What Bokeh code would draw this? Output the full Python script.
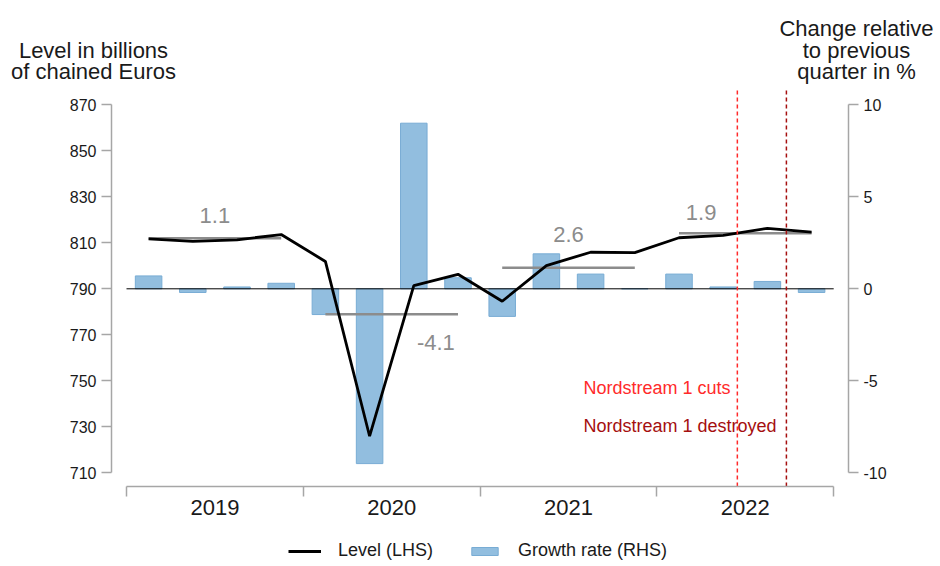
from bokeh.plotting import figure
from bokeh.models import (Range1d, LinearAxis, FixedTicker, Label,
                          Legend, LegendItem)
from bokeh.embed import file_html
from bokeh.resources import INLINE
from bokeh.core.properties import value

# ---------------- data ----------------
quarters = ["2019Q1", "2019Q2", "2019Q3", "2019Q4",
            "2020Q1", "2020Q2", "2020Q3", "2020Q4",
            "2021Q1", "2021Q2", "2021Q3", "2021Q4",
            "2022Q1", "2022Q2", "2022Q3", "2022Q4"]
years = ["2019", "2020", "2021", "2022"]

# GDP level, billions of chained euros (LHS)
level = [811.7, 810.6, 811.3, 813.6,
         801.9, 725.9, 791.4, 796.3,
         784.6, 800.1, 805.9, 805.7,
         812.2, 813.2, 816.3, 814.6]

# q/q growth rate in % (RHS)
growth = [0.7, -0.2, 0.1, 0.3,
          -1.4, -9.5, 9.0, 0.6,
          -1.5, 1.9, 0.8, 0.0,
          0.8, 0.1, 0.4, -0.2]

# annual average level and annual growth rate
annual_avg_level = [812.0, 778.9, 799.1, 814.1]
annual_growth = ["1.1", "-4.1", "2.6", "1.9"]

# events (position as fractional quarter index since 2019Q1)
event_labels = ["Nordstream 1 cuts", "Nordstream 1 destroyed"]
event_pos = [13.82, 14.93]

left_ticks = [710, 730, 750, 770, 790, 810, 830, 850, 870]
right_ticks = [-10, -5, 0, 5, 10]

left_title = ["Level in billions", "of chained Euros"]
right_title = ["Change relative", "to previous", "quarter in %"]

# ---------------- styling / layout ----------------
FONT = "Liberation Sans"
AX = "#a6a6a6"
TXT = "#1a1a1a"
GREY = "#8c8c8c"
W, H = 940, 566

# pixel geometry of the chart area
PX_Q = 44.2          # px per quarter
X0_PX = 126          # px of first quarter start
PX_U = 2.3           # px per LHS unit
Y870_PX = 104.3      # px of the 870 tick
x_lo = -X0_PX / PX_Q
x_hi = (W - X0_PX) / PX_Q
y_hi = 870 + Y870_PX / PX_U
y_lo = 870 - (H - Y870_PX) / PX_U
def x_at(px):
    return (px - X0_PX) / PX_Q
def y_at(py):
    return 870 - (py - Y870_PX) / PX_U
to_rhs = lambda v: (v - 790) / 8

n = len(quarters)
xq = [i + 0.5 for i in range(n)]

p = figure(width=W, height=H, output_backend="svg", toolbar_location=None,
           x_range=Range1d(x_lo, x_hi), y_range=Range1d(y_lo, y_hi),
           x_axis_location=None, y_axis_location=None, min_border=0)
p.extra_y_ranges = {"g": Range1d(to_rhs(y_lo), to_rhs(y_hi))}
p.outline_line_color = None
p.grid.visible = False

# axes (drawn at fixed locations inside the canvas)
yl = LinearAxis(ticker=FixedTicker(ticks=left_ticks),
                bounds=(left_ticks[0], left_ticks[-1]), fixed_location=x_at(111))
yr = LinearAxis(ticker=FixedTicker(ticks=right_ticks),
                bounds=(right_ticks[0], right_ticks[-1]), y_range_name="g",
                fixed_location=x_at(848),
                major_label_overrides={t: str(t) for t in right_ticks})
xb = LinearAxis(ticker=FixedTicker(ticks=[4 * i + 2 for i in range(len(years))],
                                   minor_ticks=[4 * i for i in range(len(years) + 1)]),
                bounds=(0, n), fixed_location=y_at(486),
                major_label_overrides={4 * i + 2: y for i, y in enumerate(years)})
for ax in (yl, yr, xb):
    ax.axis_line_color = AX
    ax.axis_line_width = 1.5
    ax.major_tick_line_color = AX
    ax.major_tick_line_width = 1.5
    ax.minor_tick_line_color = AX
    ax.minor_tick_line_width = 1.5
    ax.major_tick_in = 0
    ax.minor_tick_in = 0
    ax.minor_tick_out = 0
    ax.major_tick_out = 10
    ax.major_label_text_font = FONT
    ax.major_label_text_color = TXT
    ax.major_label_text_font_size = "16px"
    ax.major_label_standoff = 5
xb.major_tick_out = 0
xb.minor_tick_out = 10
xb.major_label_text_font_size = "22px"
xb.major_label_standoff = 3
p.add_layout(yl, "left")
p.add_layout(yr, "right")
p.add_layout(xb, "below")

# bars (RHS)
bars = p.vbar(x=xq, top=growth, bottom=0, width=0.6, y_range_name="g",
              fill_color="#92bedf", line_color="#78acd4", line_width=1)
# zero line
p.line([0, n], [0, 0], y_range_name="g", line_color="black", line_width=1)

# annual averages
p.segment(x0=[4 * i + 0.5 for i in range(len(years))],
          x1=[4 * i + 3.5 for i in range(len(years))],
          y0=annual_avg_level, y1=annual_avg_level,
          line_color=GREY, line_width=2.5)

# level line (LHS)
lvl = p.line(xq, level, line_color="black", line_width=2.8)

# annual growth labels
lab_x = [2.0, 7.0, 10.0, 13.0]
lab_y = [821.9, 766.8, 813.5, 823.3]
p.text(x=lab_x, y=lab_y, text=annual_growth, text_font=value(FONT),
       text_font_size="22px", text_color=GREY, text_align="center",
       text_baseline="middle")

# events
ev_colors = ["#ff2a2a", "#a50f0f"]
p.segment(x0=event_pos, x1=event_pos, y0=[y_at(486)] * 2, y1=[y_at(89)] * 2,
          line_color=ev_colors, line_dash="4 3", line_width=1.5)
p.text(x=[10.34, 10.34], y=[746.7, 730.3], text=event_labels,
       text_color=ev_colors, text_font=value(FONT), text_font_size="18px",
       text_align="left", text_baseline="middle")

# axis titles (screen units: from canvas left / bottom)
for txt, x, y in zip(left_title + right_title,
                     [93, 93, 856, 856, 856],
                     [50, 71, 28, 49.5, 71]):
    p.add_layout(Label(x=x, y=H - y, x_units="screen", y_units="screen", text=txt,
                       text_font=FONT, text_font_size="22px", text_color=TXT,
                       text_align="center", text_baseline="alphabetic"))

legend = Legend(items=[LegendItem(label="Level (LHS)", renderers=[lvl]),
                       LegendItem(label="Growth rate (RHS)", renderers=[bars])],
                location=(288, 5), orientation="horizontal",
                border_line_color=None, background_fill_alpha=0,
                padding=0, margin=0, spacing=35, label_standoff=17,
                glyph_width=33, glyph_height=10, label_height=20,
                label_text_font=FONT, label_text_font_size="18px",
                label_text_color=TXT)
p.add_layout(legend)

open("out.html", "w").write(file_html(p, INLINE))
